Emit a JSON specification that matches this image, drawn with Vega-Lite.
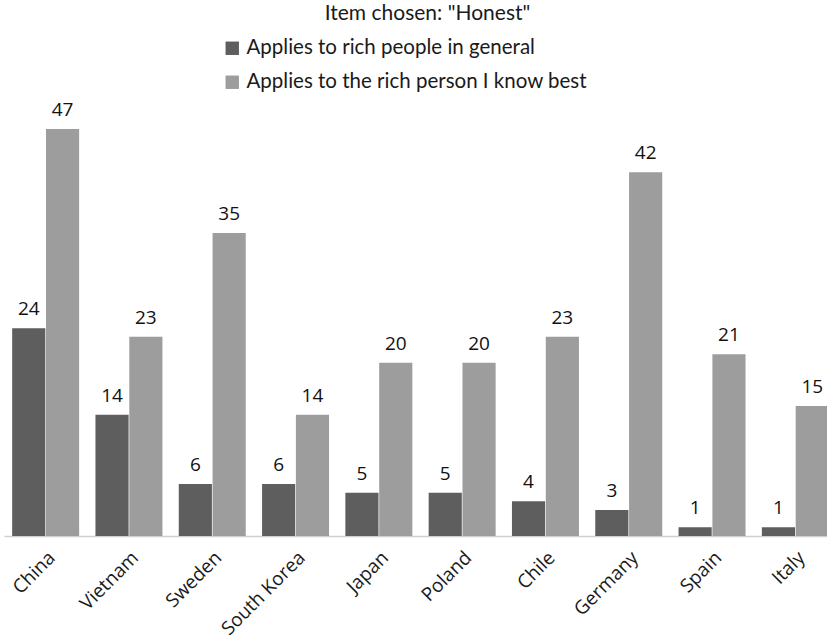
{
  "$schema": "https://vega.github.io/schema/vega-lite/v6.json",
  "autosize": {"type": "none"},
  "width": 823,
  "height": 433,
  "padding": {"left": 4, "top": 103, "right": 0, "bottom": 108},
  "background": "white",
  "config": {"view": {"stroke": null}},
  "title": {
    "text": "Item chosen: \"Honest\"",
    "font": "Lato",
    "fontSize": 21,
    "fontWeight": "normal",
    "color": "#1a1a1a",
    "anchor": "middle",
    "dx": 12,
    "offset": 14
  },
  "data": {
    "values": [
      {"country": "China", "series": "Applies to rich people in general", "pct": 24},
      {"country": "China", "series": "Applies to the rich person I know best", "pct": 47},
      {"country": "Vietnam", "series": "Applies to rich people in general", "pct": 14},
      {"country": "Vietnam", "series": "Applies to the rich person I know best", "pct": 23},
      {"country": "Sweden", "series": "Applies to rich people in general", "pct": 6},
      {"country": "Sweden", "series": "Applies to the rich person I know best", "pct": 35},
      {"country": "South Korea", "series": "Applies to rich people in general", "pct": 6},
      {"country": "South Korea", "series": "Applies to the rich person I know best", "pct": 14},
      {"country": "Japan", "series": "Applies to rich people in general", "pct": 5},
      {"country": "Japan", "series": "Applies to the rich person I know best", "pct": 20},
      {"country": "Poland", "series": "Applies to rich people in general", "pct": 5},
      {"country": "Poland", "series": "Applies to the rich person I know best", "pct": 20},
      {"country": "Chile", "series": "Applies to rich people in general", "pct": 4},
      {"country": "Chile", "series": "Applies to the rich person I know best", "pct": 23},
      {"country": "Germany", "series": "Applies to rich people in general", "pct": 3},
      {"country": "Germany", "series": "Applies to the rich person I know best", "pct": 42},
      {"country": "Spain", "series": "Applies to rich people in general", "pct": 1},
      {"country": "Spain", "series": "Applies to the rich person I know best", "pct": 21},
      {"country": "Italy", "series": "Applies to rich people in general", "pct": 1},
      {"country": "Italy", "series": "Applies to the rich person I know best", "pct": 15}
    ]
  },
  "encoding": {
    "x": {
      "field": "country",
      "type": "nominal",
      "sort": null,
      "scale": {"range": [0, 833], "paddingInner": 0.196, "paddingOuter": 0.098},
      "axis": {
        "title": null,
        "ticks": false,
        "grid": false,
        "domainColor": "#cfcfcf",
        "domainWidth": 1.5,
        "labelAngle": -45,
        "labelFont": "Open Sans",
        "labelFontSize": 19,
        "labelColor": "#1a1a1a",
        "labelPadding": 12,
        "labelOffset": 0
      }
    },
    "xOffset": {
      "field": "series",
      "type": "nominal",
      "sort": null,
      "scale": {"paddingInner": 0.02}
    },
    "y": {
      "field": "pct",
      "type": "quantitative",
      "scale": {"domain": [0, 50], "nice": false},
      "axis": null
    }
  },
  "layer": [
    {
      "mark": {"type": "bar"},
      "encoding": {
        "color": {
          "field": "series",
          "type": "nominal",
          "sort": null,
          "scale": {"range": ["#5e5e5e", "#9d9d9d"]},
          "legend": {
            "title": null,
            "orient": "none",
            "legendX": 218,
            "legendY": -65,
            "direction": "vertical",
            "symbolType": "square",
            "symbolSize": 180,
            "symbolStrokeWidth": 0,
            "labelFont": "Lato",
            "labelFontSize": 20.5,
            "labelColor": "#1a1a1a",
            "labelOffset": 4,
            "labelLimit": 500,
            "rowPadding": 13
          }
        }
      }
    },
    {
      "mark": {
        "type": "text",
        "baseline": "alphabetic",
        "dy": -13,
        "font": "Open Sans",
        "fontSize": 19,
        "color": "#111111"
      },
      "encoding": {
        "text": {"field": "pct", "type": "quantitative"}
      }
    }
  ]
}
